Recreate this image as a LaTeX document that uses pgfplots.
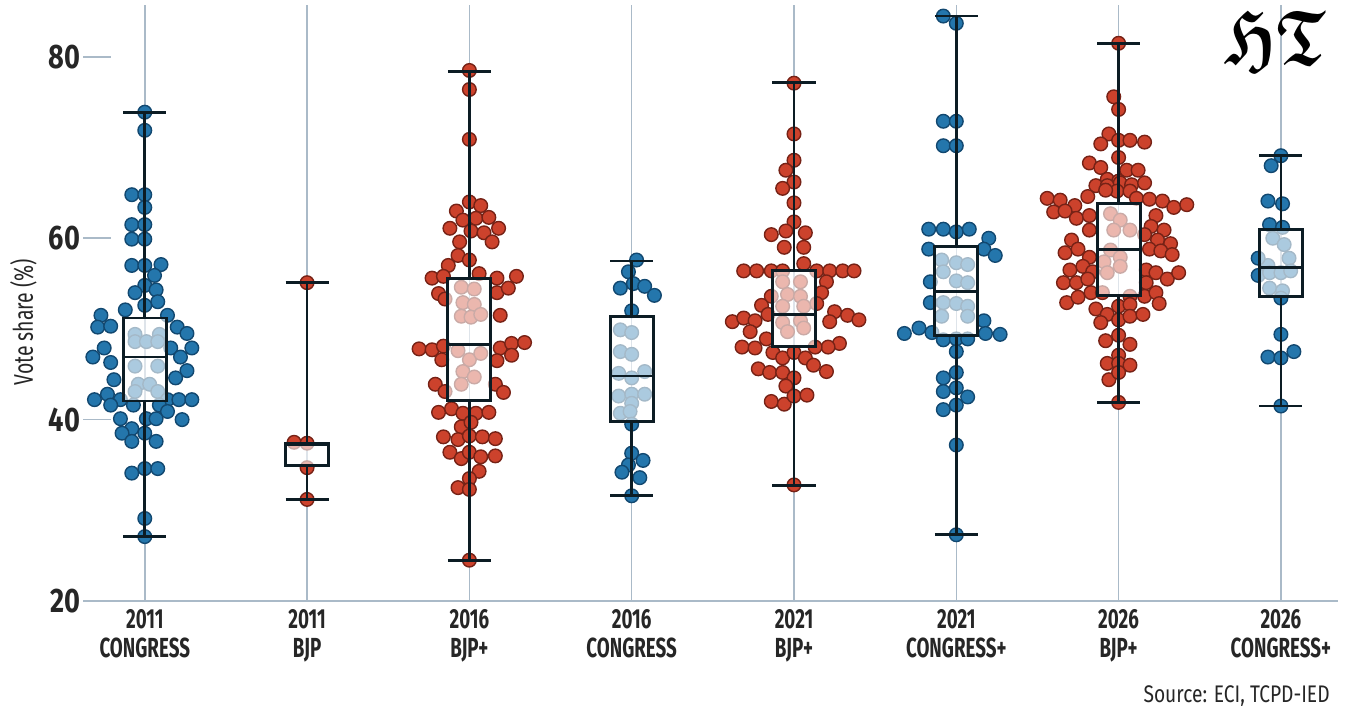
\documentclass[border=0pt]{standalone}
\usepackage{pgfplots}
\pgfplotsset{compat=1.18}
\usepackage{pgfplotstable}
\usepgfplotslibrary{statistics}
\usepackage{amsmath,amssymb}
\usepackage{fontspec}
\setmainfont{Fira Sans}
\newfontfamily\condA[FakeStretch=0.68]{Fira Sans}
\newfontfamily\condB[FakeStretch=0.8]{Fira Sans}
\newfontfamily\condC[FakeStretch=0.72]{Fira Sans}

\definecolor{bfill}{RGB}{36,118,172}
\definecolor{bedge}{RGB}{18,72,112}
\definecolor{rfill}{RGB}{204,66,44}
\definecolor{redge}{RGB}{118,34,22}
\definecolor{gridc}{RGB}{170,186,200}
\definecolor{boxc}{RGB}{12,28,36}

\pgfplotstableread{
dx y
0 73.9
0 71.9
-0.08 64.8
0 64.8
0 63.4
-0.08 61.5
0 61.5
-0.08 59.9
0 59.9
-0.08 57.0
0 57.0
0.10 57.1
0.06 55.9
0 54.8
0.07 54.3
-0.06 54.0
0.08 53.0
0 52.6
-0.12 52.1
-0.27 51.5
0.14 51.5
-0.29 50.2
-0.21 50.3
0.20 50.2
0.26 49.5
-0.06 49.4
0.09 49.4
-0.06 48.6
0.01 48.6
0.08 48.6
-0.25 47.9
0.16 47.9
0.29 47.9
-0.32 46.9
0.22 46.9
-0.21 46.3
-0.06 45.9
0.08 45.9
0.26 45.4
0.19 44.6
-0.19 44.4
-0.04 43.9
0.03 43.9
-0.06 43.1
0.08 43.1
-0.23 42.8
-0.31 42.2
-0.15 42.2
0.14 42.2
0.21 42.2
0.29 42.2
-0.21 41.6
-0.07 41.6
0.09 41.6
0.14 40.9
-0.15 40.1
0.01 40.1
0.07 40.1
0.23 40.0
-0.08 39.0
-0.14 38.5
0 38.5
-0.08 37.6
0.07 37.6
0 34.6
0.08 34.6
-0.08 34.1
0 29.1
0 27.1
}\catA

\pgfplotstableread{
dx y
0 55.1
-0.08 37.5
0 37.4
0 34.7
0 31.2
}\catB

\pgfplotstableread{
dx y
0 78.5
0 76.4
0 70.9
0 64.0
0.07 63.6
-0.08 63.0
-0.04 62.0
0.04 62.2
0.12 62.3
-0.12 61.1
0.01 60.8
0.09 60.6
0.18 61.1
-0.06 59.6
0.14 59.6
-0.07 58.1
0 57.6
-0.13 57.0
-0.23 55.6
-0.16 55.8
0.06 56.1
0.17 55.6
0.29 55.8
-0.19 53.9
0.17 54.0
0.24 54.5
-0.15 53.3
0.19 51.5
-0.05 54.6
0.03 54.4
-0.04 52.9
0.03 52.7
-0.05 51.4
0.01 51.3
0.07 51.6
-0.31 47.8
-0.23 47.7
-0.16 48.1
0.19 47.9
0.26 48.4
0.34 48.5
-0.17 46.6
0.17 46.5
0.26 47.1
-0.07 47.6
0 46.6
0.07 47.3
-0.04 45.3
0.03 44.7
-0.05 43.9
-0.21 43.9
0.16 43.9
-0.15 43.1
0.21 43.0
-0.19 40.8
-0.11 41.2
-0.04 40.7
0.04 40.7
0.12 40.8
-0.05 39.2
0.01 39.7
-0.16 38.1
-0.07 37.8
0 38.2
0.08 38.1
0.16 37.9
-0.12 36.4
-0.05 35.7
0 36.4
0.07 35.9
0.16 36.0
0.06 34.3
0 33.5
-0.07 32.5
0 32.3
0 24.5
}\catC

\pgfplotstableread{
dx y
0.03 57.6
-0.02 56.3
0.01 55.0
-0.07 54.5
0.08 54.7
0.14 53.7
0 52.0
-0.07 49.9
0 49.6
-0.07 47.5
0 47.2
-0.08 45.1
0 44.6
0.08 45.3
-0.08 42.6
0 42.8
0.08 42.8
0 41.8
-0.07 40.7
-0.01 40.9
0 39.5
0 36.3
0.07 35.5
-0.02 35.0
-0.06 34.2
0.05 33.6
0 31.6
}\catD

\pgfplotstableread{
dx y
0 77.1
0 71.5
0 68.6
-0.05 67.5
0 66.2
-0.07 65.5
0 63.9
0 61.8
-0.14 60.4
-0.05 60.8
0.07 60.6
-0.06 59.0
0.06 59.0
-0.31 56.4
-0.23 56.4
-0.14 56.4
-0.07 56.4
0.06 57.2
0.14 56.4
0.22 56.4
0.30 56.4
0.37 56.4
0.20 55.2
0.17 54.0
-0.14 53.6
-0.20 52.6
0.14 52.8
-0.07 55.2
0.04 55.2
-0.04 53.8
0.04 53.6
-0.07 52.5
0.06 52.5
-0.07 50.7
0.04 50.9
-0.04 49.7
0.06 50.1
0.25 51.9
0.33 51.5
0.40 51.0
-0.38 50.8
-0.31 51.2
-0.24 50.9
-0.16 51.6
0.22 50.8
-0.27 49.7
-0.32 48.0
-0.24 47.9
-0.17 48.9
0.28 48.4
0.21 48.0
0.13 48.0
-0.13 47.4
-0.07 46.8
0 47.4
0.07 46.8
0.12 46.0
0.20 45.3
-0.22 45.6
-0.15 45.2
-0.07 45.2
0 44.6
-0.05 43.7
-0.14 42.0
-0.06 41.7
0 42.6
0.08 42.7
0 32.8
}\catE

\pgfplotstableread{
dx y
-0.08 84.5
0 83.7
-0.08 72.9
0 72.9
-0.08 70.2
0 70.2
-0.17 61.0
-0.08 61.0
0 60.7
0.08 61.0
0.20 60.0
-0.17 58.8
0.17 58.8
0.24 58.1
-0.09 57.6
0 57.3
0.07 57.1
-0.08 56.3
0 55.3
0.07 55.1
-0.16 55.2
-0.16 52.9
-0.08 52.9
0 52.8
0.07 52.5
-0.09 51.4
0.07 51.4
0.17 50.9
-0.32 49.5
-0.23 50.1
-0.15 49.6
-0.08 48.8
0 48.9
0.07 48.9
0.18 49.5
0.27 49.4
0 47.5
0 45.2
-0.08 44.6
-0.08 43.1
0 43.5
0.07 42.5
-0.08 41.1
0 41.6
0 37.2
0 27.3
}\catF

\pgfplotstableread{
dx y
0 81.5
-0.03 75.6
0 74.2
-0.06 71.5
-0.11 70.4
0 70.8
0.07 70.8
0.16 70.6
0 68.9
-0.18 68.3
-0.11 67.8
0.05 67.5
0.12 67.5
-0.07 66.5
0 66.3
-0.14 65.8
-0.07 65.8
0.01 66.1
0.08 65.9
0.16 66.1
-0.01 65.2
-0.08 65.3
0.07 65.2
-0.44 64.4
-0.36 64.2
-0.27 63.6
-0.19 64.6
0.11 64.4
0.19 64.3
0.27 64.1
0.34 63.4
0.42 63.7
-0.40 62.9
-0.33 63.0
-0.26 62.2
-0.18 62.5
0.23 62.5
0.20 61.3
-0.18 60.9
0.28 60.9
-0.05 62.7
0.01 62.0
-0.03 60.9
0.07 60.9
-0.05 58.7
0.01 57.9
-0.09 57.4
0.01 56.9
-0.07 56.2
-0.29 59.8
0.16 60.4
0.24 59.8
0.32 59.4
-0.33 58.4
-0.25 58.8
-0.18 57.9
0.19 58.8
0.26 58.6
0.33 58.2
-0.30 56.5
-0.22 56.9
-0.16 56.3
0.17 56.5
0.23 56.2
0.30 55.5
0.37 56.2
-0.34 55.1
-0.26 55.1
-0.19 55.5
0.17 55.1
-0.32 52.9
-0.25 53.5
-0.17 54.0
-0.10 54.0
0.07 53.6
0.16 53.6
0.23 54.0
0.25 52.8
-0.14 52.2
-0.07 51.6
0 52.5
0.07 52.7
-0.11 50.7
0 51.0
0.07 51.4
0.15 51.6
0 49.3
-0.08 48.7
0.07 48.3
0 47.1
-0.07 46.2
0 46.2
0.07 46.0
-0.06 44.4
0 45.2
0 41.9
}\catG

\pgfplotstableread{
dx y
0 69.1
-0.06 68.0
-0.08 64.1
0.01 63.8
-0.07 61.5
0.01 61.2
-0.05 60.0
0.02 59.3
0.05 57.8
-0.08 57.0
-0.14 57.8
-0.14 55.9
-0.07 56.2
0 56.2
0.06 56.4
-0.07 54.5
0.01 54.2
0 53.4
0 49.4
-0.08 46.9
0 46.8
0.08 47.5
0 41.5
}\catH

\pgfplotsset{
  bdot/.style={only marks, mark=*, mark size=3.4pt,
    mark options={fill=bfill, draw=bedge, line width=0.7pt}},
  rdot/.style={only marks, mark=*, mark size=3.4pt,
    mark options={fill=rfill, draw=redge, line width=0.7pt}},
  bx/.style={draw=boxc, line width=1.4pt, solid},
  boxplot/draw direction=y,
  boxplot/every box/.style={draw=boxc, fill=white, fill opacity=0.62},
}

\begin{document}
\begin{tikzpicture}
\path[use as bounding box] (-55.75pt,-57pt) rectangle (618.25pt,300.5pt);
\begin{axis}[
  at={(0pt,0pt)}, anchor=south west,
  scale only axis,
  width=613.1pt, height=297.9pt,
  xmin=-0.205, xmax=7.35,
  ymin=20, ymax=85.7,
  clip=false,
  clip marker paths=true,
  axis x line*=bottom, axis y line*=left,
  x axis line style={draw=gridc, line width=0.8pt, -},
  y axis line style={draw=none},
  xtick={0,1,2,3,4,5,6,7},
  xticklabels={2011\\CONGRESS, 2011\\BJP, 2016\\BJP+, 2016\\CONGRESS, 2021\\BJP+, 2021\\CONGRESS+, 2026\\BJP+, 2026\\CONGRESS+},
  xtick style={draw=none},
  xtick align=inside,
  ytick={20,40,60,80},
  ytick align=outside,
  major tick length=14pt,
  ytick style={draw=gridc, line width=0.8pt},
  xmajorgrids,
  x grid style={draw=gridc, line width=0.8pt},
  boxplot/draw direction=y,
  boxplot/every box/.style={draw=boxc, fill=white, fill opacity=0.62},
  /pgf/number format/assume math mode=true,
  yticklabel style={font=\condB\bfseries\fontsize{17}{17}\selectfont, text=black!85, inner sep=1.5pt},
  xticklabel style={font=\condA\bfseries\fontsize{13.8}{14.5}\selectfont, align=center, text=black!85, inner sep=4pt},
]
\addplot[bdot] table[x expr=\thisrow{dx}+0, y=y] {\catA};
\addplot[rdot] table[x expr=\thisrow{dx}+1, y=y] {\catB};
\addplot[rdot] table[x expr=\thisrow{dx}+2, y=y] {\catC};
\addplot[bdot] table[x expr=\thisrow{dx}+3, y=y] {\catD};
\addplot[rdot] table[x expr=\thisrow{dx}+4, y=y] {\catE};
\addplot[bdot] table[x expr=\thisrow{dx}+5, y=y] {\catF};
\addplot[rdot] table[x expr=\thisrow{dx}+6, y=y] {\catG};
\addplot[bdot] table[x expr=\thisrow{dx}+7, y=y] {\catH};

\addplot[bx, boxplot prepared={draw direction=y, draw position=0, lower whisker=27.1, lower quartile=42.05, median=46.9, upper quartile=51.2, upper whisker=73.9, box extend=0.265, whisker extend=0.265}] coordinates {};
\addplot[bx, boxplot prepared={draw direction=y, draw position=1, lower whisker=31.2, lower quartile=34.9, median=37.2, upper quartile=37.4, upper whisker=55.1, box extend=0.265, whisker extend=0.265}] coordinates {};
\addplot[bx, boxplot prepared={draw direction=y, draw position=2, lower whisker=24.5, lower quartile=42.1, median=48.3, upper quartile=55.6, upper whisker=78.4, box extend=0.265, whisker extend=0.265}] coordinates {};
\addplot[bx, boxplot prepared={draw direction=y, draw position=3, lower whisker=31.6, lower quartile=39.8, median=44.8, upper quartile=51.4, upper whisker=57.5, box extend=0.265, whisker extend=0.265}] coordinates {};
\addplot[bx, boxplot prepared={draw direction=y, draw position=4, lower whisker=32.7, lower quartile=48.1, median=51.6, upper quartile=56.4, upper whisker=77.2, box extend=0.265, whisker extend=0.265}] coordinates {};
\addplot[bx, boxplot prepared={draw direction=y, draw position=5, lower whisker=27.3, lower quartile=49.3, median=54.1, upper quartile=59.1, upper whisker=84.5, box extend=0.265, whisker extend=0.265}] coordinates {};
\addplot[bx, boxplot prepared={draw direction=y, draw position=6, lower whisker=41.9, lower quartile=53.7, median=58.8, upper quartile=63.8, upper whisker=81.5, box extend=0.265, whisker extend=0.265}] coordinates {};
\addplot[bx, boxplot prepared={draw direction=y, draw position=7, lower whisker=41.5, lower quartile=53.6, median=56.8, upper quartile=61.0, upper whisker=69.1, box extend=0.265, whisker extend=0.265}] coordinates {};
\end{axis}
\node[rotate=90, anchor=center, font=\condC\fontsize{13.5}{14}\selectfont, text=black!85] at (-44pt,139.5pt) {Vote share (\%)};
\node[anchor=base east, font=\condB\fontsize{12}{12}\selectfont, text=black!85, inner sep=0pt] at (609.25pt,-51pt) {Source: ECI, TCPD-IED};
\node[anchor=center, inner sep=0pt] at (581.75pt,280.5pt) {\scalebox{3.1}[3.9]{\boldmath$\mathfrak{HT}$}};
\end{tikzpicture}
\end{document}
